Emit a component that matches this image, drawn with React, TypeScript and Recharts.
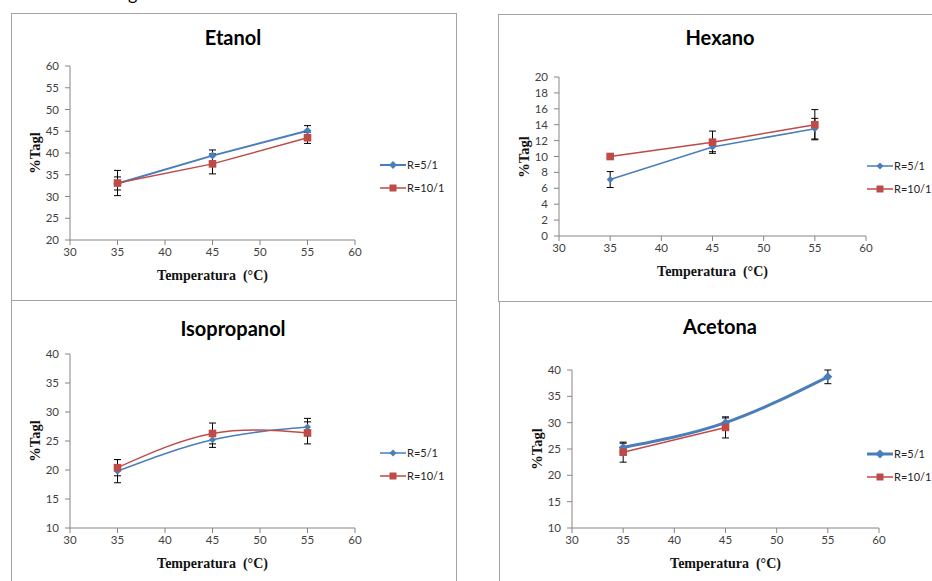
import { LineChart, Line, XAxis, YAxis, ErrorBar, Legend } from "recharts";

const BLUE = "#4a7ebb";
const RED = "#be4b48";
const AXIS = "#868686";
const TICK_TEXT = "#3f3f3f";

const temperatures = [35, 45, 55];
const xTicks = [30, 35, 40, 45, 50, 55, 60];

const etanolR5 = [33.0, 39.4, 45.1];
const etanolR5Err = [1.5, 1.3, 1.2];
const etanolR10 = [33.1, 37.5, 43.5];
const etanolR10Err = [2.9, 2.3, 1.3];
const etanolTicks = [20, 25, 30, 35, 40, 45, 50, 55, 60];

const hexanoR5 = [7.1, 11.2, 13.5];
const hexanoR5Err = [1.0, 0.6, 1.3];
const hexanoR10 = [10.0, 11.8, 14.0];
const hexanoR10Err = [0, 1.4, 1.9];
const hexanoTicks = [0, 2, 4, 6, 8, 10, 12, 14, 16, 18, 20];

const isopropanolR5 = [19.8, 25.2, 27.4];
const isopropanolR5Err = [2.0, 1.3, 1.5];
const isopropanolR10 = [20.4, 26.3, 26.4];
const isopropanolR10Err = [1.4, 1.8, 1.9];
const isopropanolTicks = [10, 15, 20, 25, 30, 35, 40];

const acetonaR5 = [25.3, 30.0, 38.7];
const acetonaR5Err = [0.8, 0.9, 1.3];
const acetonaR10 = [24.4, 29.1, null];
const acetonaR10Err = [1.9, 2.0, null];
const acetonaTicks = [10, 15, 20, 25, 30, 35, 40];

const seriesNames = ["R=5/1", "R=10/1"];

const buildRows = (
  r5: (number | null)[],
  r5Err: (number | null)[],
  r10: (number | null)[],
  r10Err: (number | null)[]
) =>
  temperatures.map((t, i) => ({
    t,
    r5: r5[i],
    r5Err: r5Err[i],
    r10: r10[i],
    r10Err: r10Err[i],
  }));

const XAXIS_H = 30;
const YAXIS_W = 40;

type Rect = { left: number; top: number; width: number; height: number };
type Plot = { left: number; top: number; right: number; bottom: number };

interface PanelProps {
  title: string;
  frame: Rect;
  chart: Rect;
  plot: Plot;
  titlePos: [number, number];
  legendPos: [number, number];
  yTicks: number[];
  rows: ReturnType<typeof buildRows>;
  curve: "linear" | "natural";
  blueWidth: number;
  diamond: number;
}

const diamondDot = (r: number) => (props: any) => {
  const { cx, cy, index } = props;
  if (cx == null || cy == null || Number.isNaN(cy)) return <g key={`d-${index}`} />;
  return (
    <path
      key={`d-${index}`}
      d={`M${cx},${cy - r}L${cx + r},${cy}L${cx},${cy + r}L${cx - r},${cy}Z`}
      fill={BLUE}
    />
  );
};

const squareDot = (s: number) => (props: any) => {
  const { cx, cy, index } = props;
  if (cx == null || cy == null || Number.isNaN(cy)) return <g key={`s-${index}`} />;
  return <rect key={`s-${index}`} x={cx - s} y={cy - s} width={s * 2} height={s * 2} fill={RED} />;
};

const legendContent = (blueWidth: number, diamond: number) => () => (
  <div style={{ fontFamily: "Lato, sans-serif", fontSize: 11, color: "#222" }}>
    {seriesNames.map((name, i) => (
      <div key={name} style={{ display: "flex", alignItems: "center", height: 23, whiteSpace: "nowrap" }}>
        <svg width={26} height={12} style={{ marginRight: 1, flexShrink: 0 }}>
          <line
            x1={0}
            y1={6}
            x2={26}
            y2={6}
            stroke={i === 0 ? BLUE : RED}
            strokeWidth={i === 0 ? blueWidth : 1.5}
          />
          {i === 0 ? (
            <path d={`M13,${6 - diamond}L${13 + diamond},6L13,${6 + diamond}L${13 - diamond},6Z`} fill={BLUE} />
          ) : (
            <rect x={9.5} y={2.5} width={7} height={7} fill={RED} />
          )}
        </svg>
        <span>{name}</span>
      </div>
    ))}
  </div>
);

const Panel = ({ title, frame, chart, plot, titlePos, legendPos, yTicks, rows, curve, blueWidth, diamond }: PanelProps) => {
  const margin = {
    left: plot.left - chart.left - YAXIS_W,
    top: plot.top - chart.top,
    right: chart.left + chart.width - plot.right,
    bottom: chart.top + chart.height - plot.bottom - XAXIS_H,
  };
  const tickStyle = { fill: TICK_TEXT, fontSize: 11.5, fontFamily: "Lato, sans-serif" };
  const midX = (plot.left + plot.right) / 2;
  const midY = (plot.top + plot.bottom) / 2;
  return (
    <>
      <div
        style={{
          position: "absolute",
          left: frame.left,
          top: frame.top,
          width: frame.width,
          height: frame.height,
          border: "1px solid #a3a3a3",
          boxSizing: "border-box",
        }}
      />
      <div style={{ position: "absolute", left: chart.left, top: chart.top }}>
        <LineChart width={chart.width} height={chart.height} data={rows} margin={margin}>
          <XAxis
            dataKey="t"
            type="number"
            domain={[xTicks[0], xTicks[xTicks.length - 1]]}
            ticks={xTicks}
            height={XAXIS_H}
            stroke={AXIS}
            tickSize={5}
            tickMargin={3}
            tick={tickStyle}
            interval={0}
          />
          <YAxis
            type="number"
            domain={[yTicks[0], yTicks[yTicks.length - 1]]}
            ticks={yTicks}
            width={YAXIS_W}
            stroke={AXIS}
            tickSize={5}
            tickMargin={6}
            tick={tickStyle}
            interval={0}
          />
          <Legend
            layout="vertical"
            align="center"
            verticalAlign="middle"
            content={legendContent(blueWidth, diamond)}
            wrapperStyle={{
              left: legendPos[0] - chart.left,
              top: legendPos[1] - chart.top - 11,
              width: 90,
              height: "auto",
            }}
          />
          <Line
            type={curve}
            dataKey="r5"
            name={seriesNames[0]}
            stroke={BLUE}
            strokeWidth={blueWidth}
            dot={diamondDot(diamond)}
            activeDot={false}
            isAnimationActive={false}
          >
            <ErrorBar dataKey="r5Err" width={3.5} stroke="#000" strokeWidth={1} direction="y" />
          </Line>
          <Line
            type={curve}
            dataKey="r10"
            name={seriesNames[1]}
            stroke={RED}
            strokeWidth={1.5}
            dot={squareDot(3.8)}
            activeDot={false}
            isAnimationActive={false}
          >
            <ErrorBar dataKey="r10Err" width={3.5} stroke="#000" strokeWidth={1} direction="y" />
          </Line>
        </LineChart>
      </div>
      <div
        style={{
          position: "absolute",
          left: titlePos[0] - 100,
          top: titlePos[1] - 12,
          width: 200,
          lineHeight: "24px",
          textAlign: "center",
          fontFamily: "Lato, sans-serif",
          fontWeight: 700,
          fontSize: 20,
          color: "#000",
        }}
      >
        {title}
      </div>
      <div
        style={{
          position: "absolute",
          left: midX - 100,
          top: plot.bottom + 36 - 9,
          width: 200,
          lineHeight: "18px",
          textAlign: "center",
          fontFamily: "'Liberation Serif', serif",
          fontWeight: 700,
          fontSize: 14,
          color: "#111",
          whiteSpace: "pre",
        }}
      >
        {"Temperatura  (°C)"}
      </div>
      <div
        style={{
          position: "absolute",
          left: plot.left - 35 - 40,
          top: midY - 9,
          width: 80,
          lineHeight: "18px",
          textAlign: "center",
          fontFamily: "'Liberation Serif', serif",
          fontWeight: 700,
          fontSize: 14.5,
          color: "#111",
          transform: "rotate(-90deg)",
        }}
      >
        %Tagl
      </div>
    </>
  );
};

const panels: (PanelProps & { id: string })[] = [
  {
    id: "etanol",
    title: "Etanol",
    frame: { left: 11, top: 13, width: 446, height: 288 },
    chart: { left: 11, top: 13, width: 446, height: 287 },
    plot: { left: 70, top: 66, right: 355, bottom: 240 },
    titlePos: [233, 37],
    legendPos: [380, 164],
    yTicks: etanolTicks,
    rows: buildRows(etanolR5, etanolR5Err, etanolR10, etanolR10Err),
    curve: "linear",
    blueWidth: 2,
    diamond: 4,
  },
  {
    id: "hexano",
    title: "Hexano",
    frame: { left: 498, top: 14, width: 460, height: 288 },
    chart: { left: 498, top: 14, width: 434, height: 286 },
    plot: { left: 559, top: 77, right: 866, bottom: 236 },
    titlePos: [720, 37],
    legendPos: [867, 165],
    yTicks: hexanoTicks,
    rows: buildRows(hexanoR5, hexanoR5Err, hexanoR10, hexanoR10Err),
    curve: "linear",
    blueWidth: 1.5,
    diamond: 3.5,
  },
  {
    id: "isopropanol",
    title: "Isopropanol",
    frame: { left: 11, top: 300, width: 446, height: 300 },
    chart: { left: 11, top: 300, width: 446, height: 281 },
    plot: { left: 70, top: 354, right: 355, bottom: 528 },
    titlePos: [233, 328],
    legendPos: [380, 452],
    yTicks: isopropanolTicks,
    rows: buildRows(isopropanolR5, isopropanolR5Err, isopropanolR10, isopropanolR10Err),
    curve: "natural",
    blueWidth: 1.5,
    diamond: 3.5,
  },
  {
    id: "acetona",
    title: "Acetona",
    frame: { left: 499, top: 301, width: 460, height: 300 },
    chart: { left: 499, top: 301, width: 433, height: 280 },
    plot: { left: 572, top: 370, right: 879, bottom: 528 },
    titlePos: [720, 326],
    legendPos: [867, 453],
    yTicks: acetonaTicks,
    rows: buildRows(acetonaR5, acetonaR5Err, acetonaR10, acetonaR10Err),
    curve: "natural",
    blueWidth: 3,
    diamond: 4.5,
  },
];

export default function App() {
  return (
    <div
      style={{
        position: "absolute",
        left: 0,
        top: 0,
        width: 932,
        height: 581,
        overflow: "hidden",
        background: "#fff",
      }}
    >
      <div
        style={{
          position: "absolute",
          left: 128,
          top: -16,
          fontFamily: "Lato, sans-serif",
          fontSize: 18,
          lineHeight: "18px",
          color: "#000",
        }}
      >
        g
      </div>
      {panels.map(({ id, ...p }) => (
        <Panel key={id} {...p} />
      ))}
    </div>
  );
}
